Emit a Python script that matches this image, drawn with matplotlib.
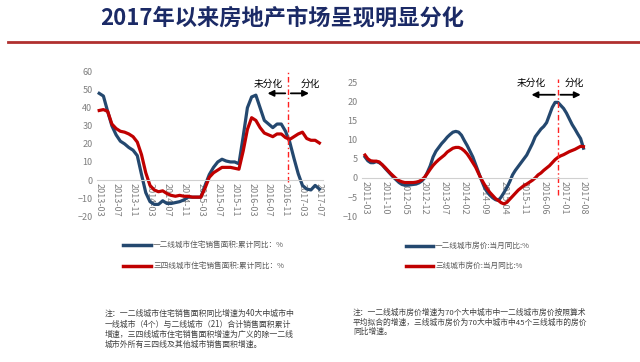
import matplotlib
matplotlib.use("Agg")
import matplotlib.pyplot as plt
from matplotlib.lines import Line2D

plt.rcParams['font.family'] = ['Noto Sans CJK SC', 'DejaVu Sans']

# ---------------- data ----------------
left_ticks = ["2013-03", "2013-07", "2013-11", "2014-03", "2014-07", "2014-11", "2015-03",
              "2015-07", "2015-11", "2016-03", "2016-07", "2016-11", "2017-03", "2017-07"]
tier12_sales = [48, 46.5, 38, 30, 25, 21.5, 20, 18, 16.5, 13.5, 3, -7, -12, -13.5, -13.5, -11.5,
                -13, -13, -12.5, -12, -11, -9.5, -9.5, -9.5, -9.5, -3, 3, 7, 10, 11.5, 10.5, 10,
                10, 9, 24, 40, 46, 47, 40, 33, 31, 29, 31, 31, 27, 21, 12, 3.5, -3, -5, -5.5, -3, -5]
tier34_sales = [38.5, 39, 38, 31, 28.5, 27, 26.5, 25.5, 24, 21, 14, 4, -3, -5.5, -6.5, -6,
                -7.5, -8.5, -9, -8.5, -9, -9, -9.5, -9.5, -9.5, -4.5, 1.5, 4, 5.5, 7, 7, 7,
                6.5, 6, 16, 28, 34.5, 33, 29, 26, 25, 24, 25.5, 25.5, 23.5, 22.5, 24, 25.5,
                26.5, 23, 22, 22, 20.5]

right_ticks = ["2011-03", "2011-10", "2012-05", "2012-12", "2013-07", "2014-02", "2014-09",
               "2015-04", "2015-11", "2016-06", "2017-01", "2017-08"]
tier12_price = [5.5, 4.5, 4, 4, 4.3, 4, 3.5, 2.6, 1.8, 1, 0.2, -0.5, -1.2, -1.7, -1.9, -1.9,
                -1.8, -1.7, -1.6, -1.3, -0.8, 0, 1.5, 3.2, 5.5, 7, 8, 9, 9.8, 10.7, 11.4, 12,
                12.2, 12, 11.2, 9.8, 8.5, 7, 5.5, 3.5, 1.5, -0.5, -2.3, -3.6, -4.5, -5.2, -5.7,
                -5.9, -5, -3.8, -2.5, -1, 0.8, 2, 3, 4, 5, 6, 7.5, 9, 10.8, 11.8, 12.8, 13.5,
                14.5, 16.5, 18.5, 19.8, 19.8, 19, 18.2, 17, 15.5, 14, 12.8, 11.5, 10.3, 7.8]
tier3_price = [6, 5, 4.5, 4.4, 4.4, 4.2, 3.5, 2.8, 2, 1.2, 0.5, -0.2, -0.7, -1, -1.2, -1.2,
               -1.2, -1.2, -1.1, -0.9, -0.5, 0.2, 1.2, 2.3, 3.3, 4.1, 4.8, 5.4, 6, 6.8, 7.3,
               7.8, 8, 8, 7.7, 7.1, 6.3, 5.2, 4, 2.8, 1.2, -0.3, -1.6, -2.8, -3.8, -4.6, -5.4,
               -5.9, -6.5, -6.8, -6.4, -5.6, -4.8, -4, -3.2, -2.6, -2, -1.6, -1.1, -0.6, 0,
               0.8, 1.3, 2, 2.6, 3.2, 4, 4.8, 5.4, 5.8, 6.1, 6.5, 6.9, 7.2, 7.5, 7.9, 8.3, 8.2]

left_labels = ["一二线城市住宅销售面积:累计同比：%", "三四线城市住宅销售面积:累计同比：%"]
right_labels = ["一二线城市房价:当月同比:%", "三线城市房价:当月同比:%"]

title = "2017年以来房地产市场呈现明显分化"
note_left = ("注：一二线城市住宅销售面积同比增速为40大中城市中\n"
             "一线城市（4个）与二线城市（21）合计销售面积累计\n"
             "增速，三四线城市住宅销售面积增速为广义的除一二线\n"
             "城市外所有三四线及其他城市销售面积增速。")
note_right = ("注：一二线城市房价增速为70个大中城市中一二线城市房价按照算术\n"
              "平均拟合的增速，三线城市房价为70大中城市中45个三线城市的房价\n"
              "同比增速。")

BLUE = "#24486F"
RED = "#C00000"
GRAY = "#7F7F7F"

fig = plt.figure(figsize=(6.4, 3.62), dpi=100)
fig.patch.set_facecolor("white")

fig.text(0.156, 0.95, title, fontsize=16, fontweight="bold", color="#1B2A66",
         ha="left", va="center")
fig.add_artist(Line2D([0.0125, 1.0], [0.884, 0.884], color="#B0302F", lw=2.0))


def style_axes(ax, ticks, step, ylim, yticks):
    ax.set_ylim(*ylim)
    ax.set_yticks(yticks)
    for s in ["left", "right", "top"]:
        ax.spines[s].set_visible(False)
    ax.spines["bottom"].set_position(("data", 0))
    ax.spines["bottom"].set_color("#D0D0D0")
    ax.spines["bottom"].set_linewidth(0.8)
    ax.set_xticks(range(0, len(ticks) * step, step))
    ax.set_xticklabels(ticks, rotation=270, fontsize=6.5, color=GRAY)
    ax.tick_params(axis="x", length=0, pad=2)
    ax.tick_params(axis="y", length=0, labelsize=6.5, labelcolor=GRAY, pad=3)


# ---------------- left chart ----------------
axL = fig.add_axes([0.151, 0.403, 0.354, 0.399])
xl = range(len(tier12_sales))
axL.plot(xl, tier12_sales, color=BLUE, lw=2.3, solid_joinstyle="round")
axL.plot(xl, tier34_sales, color=RED, lw=2.3, solid_joinstyle="round")
style_axes(axL, left_ticks, 4, (-20, 60), range(-20, 61, 10))
axL.set_xlim(-0.6, 52.9)
axL.plot([44.6, 44.6], [-1, 60], color="#FF2020", lw=1.0, ls=(0, (4, 2, 1, 2)))
axL.annotate("", xy=(39.1, 48), xytext=(44.6, 48),
             arrowprops=dict(arrowstyle="-|>", color="black", lw=1.3, mutation_scale=9))
axL.annotate("", xy=(50.2, 48), xytext=(44.6, 48),
             arrowprops=dict(arrowstyle="-|>", color="black", lw=1.3, mutation_scale=9))
axL.text(39.9, 53, "未分化", fontsize=7, ha="center", va="center", color="black")
axL.text(49.9, 53, "分化", fontsize=7, ha="center", va="center", color="black")

# ---------------- right chart ----------------
axR = fig.add_axes([0.565, 0.403, 0.352, 0.369])
xr = range(len(tier12_price))
axR.plot(xr, tier12_price, color=BLUE, lw=2.3, solid_joinstyle="round")
axR.plot(xr, tier3_price, color=RED, lw=2.3, solid_joinstyle="round")
style_axes(axR, right_ticks, 7, (-10, 25), range(-10, 26, 5))
axR.set_xlim(-1.2, 78.2)
axR.plot([67.9, 67.9], [-4.5, 26], color="#FF2020", lw=1.0, ls=(0, (4, 2, 1, 2)),
         clip_on=False)
axR.annotate("", xy=(57.7, 21.8), xytext=(67.9, 21.8),
             arrowprops=dict(arrowstyle="-|>", color="black", lw=1.3, mutation_scale=9))
axR.annotate("", xy=(77, 21.8), xytext=(67.9, 21.8),
             arrowprops=dict(arrowstyle="-|>", color="black", lw=1.3, mutation_scale=9))
axR.text(58.6, 24.8, "未分化", fontsize=7, ha="center", va="center", color="black")
axR.text(73.8, 24.8, "分化", fontsize=7, ha="center", va="center", color="black")

# ---------------- legends ----------------
def legend_row(x0, x1, y, color, label):
    fig.add_artist(Line2D([x0 / 640, x1 / 640], [1 - y / 362, 1 - y / 362], color=color, lw=2.5))
    fig.text((x1 + 2) / 640, 1 - y / 362, label, fontsize=5.5, color="#595959",
             ha="left", va="center")

legend_row(123, 151, 245, BLUE, left_labels[0])
legend_row(123, 151, 266, RED, left_labels[1])
legend_row(406, 433, 246, BLUE, right_labels[0])
legend_row(406, 433, 266, RED, right_labels[1])

# ---------------- notes ----------------
fig.text(105 / 640, 1 - 309 / 362, note_left, fontsize=5.7, color="#404040",
         ha="left", va="top", linespacing=1.2)
fig.text(353 / 640, 1 - 309 / 362, note_right, fontsize=5.6, color="#404040",
         ha="left", va="top", linespacing=1.2)

fig.savefig("out.png", dpi=100, facecolor="white")
